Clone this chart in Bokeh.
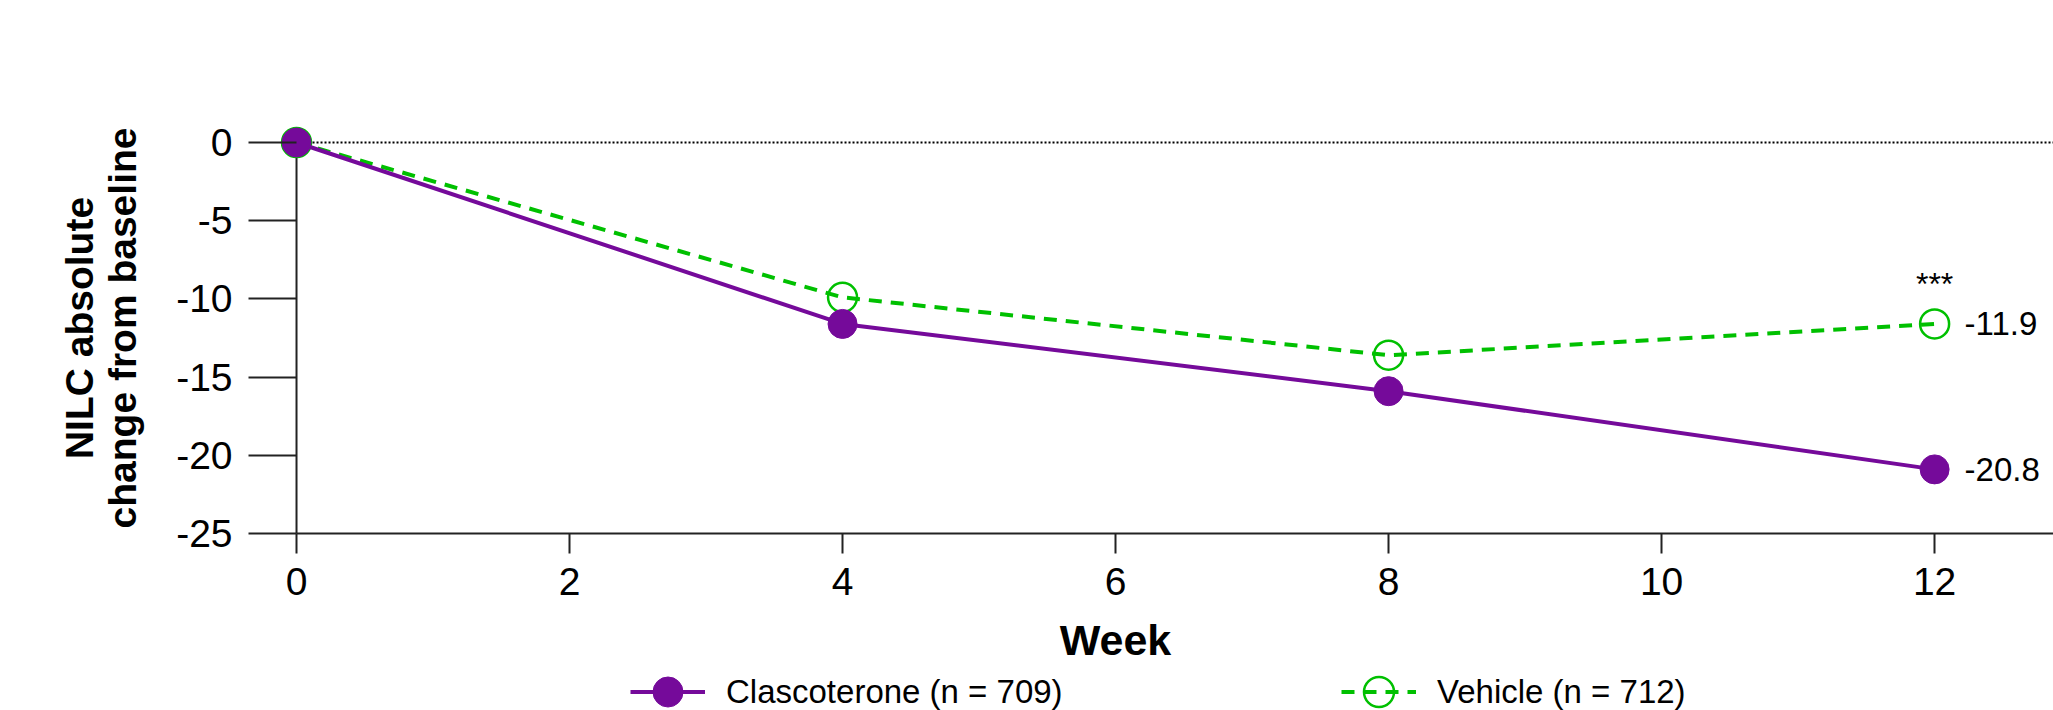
from bokeh.plotting import figure
from bokeh.models import Range1d, Span, Legend, LegendItem, FixedTicker
from bokeh.embed import file_html
from bokeh.resources import INLINE
from bokeh.core.properties import value

# ---- data ----
weeks = [0, 4, 8, 12]
clascoterone = [0.0, -11.6, -15.9, -20.9]
vehicle = [0.0, -9.9, -13.6, -11.6]
end_labels_clasco = ["-20.8"]
end_labels_vehicle = ["-11.9"]
significance = ["***"]
series_names = ["Clascoterone (n = 709)", "Vehicle (n = 712)"]
x_ticks = [0, 2, 4, 6, 8, 10, 12]
y_ticks = [0, -5, -10, -15, -20, -25]
x_label = "Week"
y_label = "NILC absolute\nchange from baseline"

PURPLE = "#750A9A"
GREEN = "#00C000"
AXIS = "#222222"
FONT = "Liberation Sans"

# the plotting frame covers the whole page; both axes are pinned inside it
p = figure(frame_width=2053, frame_height=710,
           x_range=Range1d(-2.1685, 12.871), y_range=Range1d(-36.317, 9.080),
           output_backend="svg", toolbar_location=None,
           min_border_left=0, min_border_right=0,
           min_border_top=0, min_border_bottom=0)
p.grid.visible = False
p.outline_line_color = None
p.background_fill_color = "white"

# ---- x axis ----
xa = p.xaxis[0]
xa.fixed_location = y_ticks[-1]
xa.bounds = (x_ticks[0], x_ticks[-1])
xa.ticker = FixedTicker(ticks=x_ticks)
xa.major_label_overrides = {t: str(t) for t in x_ticks}
xa.axis_line_color = None
xa.major_tick_out = 20
xa.major_tick_in = 0
xa.minor_tick_out = 0
xa.minor_tick_in = 0
xa.major_tick_line_width = 2
xa.major_tick_line_color = AXIS
xa.major_label_text_font = FONT
xa.major_label_text_font_size = "39px"
xa.major_label_text_color = "black"
xa.major_label_standoff = 14
xa.axis_label = x_label
xa.axis_label_text_font = FONT
xa.axis_label_text_font_style = "bold"
xa.axis_label_text_font_size = "43px"
xa.axis_label_text_color = "black"
xa.axis_label_standoff = 18

# ---- y axis ----
ya = p.yaxis[0]
ya.fixed_location = x_ticks[0]
ya.bounds = (y_ticks[-1], 1.3)
ya.ticker = FixedTicker(ticks=y_ticks)
ya.major_label_overrides = {t: str(t) for t in y_ticks}
ya.axis_line_color = None
ya.major_tick_out = 48
ya.major_tick_in = 0
ya.minor_tick_out = 0
ya.minor_tick_in = 0
ya.major_tick_line_width = 2
ya.major_tick_line_color = AXIS
ya.major_label_text_font = FONT
ya.major_label_text_font_size = "39px"
ya.major_label_text_color = "black"
ya.major_label_standoff = 16
ya.axis_label = y_label
ya.axis_label_text_font = FONT
ya.axis_label_text_font_style = "bold"
ya.axis_label_text_font_size = "39px"
ya.axis_label_text_line_height = 1.0
ya.axis_label_text_color = "black"
ya.axis_label_standoff = 29

# axis lines: vertical at week 0 between the extreme y ticks, horizontal to the right edge
p.segment(x0=[x_ticks[0]], y0=[y_ticks[-1]], x1=[x_ticks[0]], y1=[y_ticks[0]],
          line_color=AXIS, line_width=2)
p.ray(x=[x_ticks[0]], y=[y_ticks[-1]], length=0, angle=0,
      line_color=AXIS, line_width=2)

# zero reference line (dotted) from the y axis to the right edge
p.ray(x=[x_ticks[0]], y=[y_ticks[0]], length=0, angle=0,
      line_color="black", line_width=2, line_dash="2 2")

# ---- series ----
ve_line = p.line(weeks, vehicle, line_color=GREEN, line_width=4, line_dash="13 9")
ve_pts = p.scatter(weeks, vehicle, marker="circle", size=29, fill_color=None,
                   line_color=GREEN, line_width=2.5)
cl_line = p.line(weeks, clascoterone, line_color=PURPLE, line_width=4)
cl_pts = p.scatter(weeks, clascoterone, marker="circle", size=29,
                   fill_color=PURPLE, line_color=PURPLE, line_width=1)

# ---- end labels ----
p.text(x=weeks[-1:], y=clascoterone[-1:], text=end_labels_clasco, x_offset=30,
       text_align="left", text_baseline="middle", text_font=value(FONT),
       text_font_size="33px", text_color="black")
p.text(x=weeks[-1:], y=vehicle[-1:], text=end_labels_vehicle, x_offset=30,
       text_align="left", text_baseline="middle", text_font=value(FONT),
       text_font_size="33px", text_color="black")
p.text(x=weeks[-1:], y=vehicle[-1:], text=significance, y_offset=-22,
       text_align="center", text_baseline="bottom", text_font=value(FONT),
       text_font_size="32px", text_color="black")

# ---- legend ----
legend = Legend(items=[LegendItem(label=series_names[0], renderers=[cl_line, cl_pts]),
                       LegendItem(label=series_names[1], renderers=[ve_line, ve_pts])],
                orientation="horizontal", location=(630, -19),
                glyph_width=75, glyph_height=75, label_standoff=21,
                label_width=600, spacing=15, padding=0, margin=0,
                border_line_color=None, background_fill_alpha=0,
                label_text_font=FONT, label_text_font_size="33px",
                label_text_color="black")
p.add_layout(legend, "center")

open("out.html", "w").write(file_html(p, INLINE))
